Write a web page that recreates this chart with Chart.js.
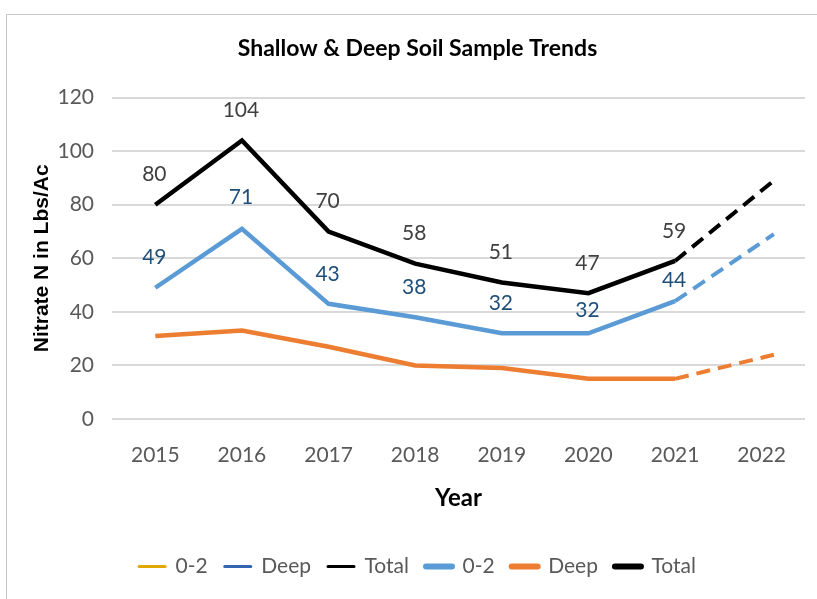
<!DOCTYPE html>
<html>
<head>
<meta charset="utf-8">
<script src="https://cdn.jsdelivr.net/npm/chart.js@4"></script>
<style>
  html, body { margin: 0; padding: 0; background: #fff; }
  #wrap { position: relative; width: 817px; height: 599px; }
  #frame { position: absolute; left: 6px; top: 14px; width: 830px; height: 620px; border: 1px solid #c8c8c8; }
  canvas { position: absolute; left: 0; top: 0; }
</style>
</head>
<body>
<div id="wrap">
  <div id="frame"></div>
  <canvas id="myChart" width="817" height="599"></canvas>
</div>
<script>
const years = [2015, 2016, 2017, 2018, 2019, 2020, 2021];
const total = [80, 104, 70, 58, 51, 47, 59];
const shallow = [49, 71, 43, 38, 32, 32, 44];
const deep = [31, 33, 27, 20, 19, 15, 15];

// dashed trend continuation past 2021
const trendX = [2021, 2022.14];
const totalTrend = [59, 89];
const shallowTrend = [44, 69];
const deepTrend = [15, 24];

const yTicks = [0, 20, 40, 60, 80, 100, 120];
const xTicks = [2015, 2016, 2017, 2018, 2019, 2020, 2021, 2022];

const narrow = "Lato, 'Liberation Sans', sans-serif";

function pts(xs, ys) {
  return xs.map((x, i) => ({ x: x, y: ys[i] }));
}

// draws the value labels above the points
const valueLabels = {
  id: "valueLabels",
  afterDatasetsDraw(chart) {
    const ctx = chart.ctx;
    chart.data.datasets.forEach((ds, i) => {
      if (!ds.labelColor) return;
      const meta = chart.getDatasetMeta(i);
      ctx.save();
      ctx.font = "21px " + narrow;
      ctx.fillStyle = ds.labelColor;
      ctx.textAlign = "center";
      ctx.textBaseline = "middle";
      meta.data.forEach((p, j) => {
        const off = ds.labelOffset ? ds.labelOffset[j] : 30;
        ctx.fillText(ds.data[j].y, p.x - 1, p.y - off);
      });
      ctx.restore();
    });
  }
};

let ctx = document.getElementById("myChart");

let chart = new Chart(ctx, {
  type: "line",
  data: {
    datasets: [
      {
        label: "0-2",
        data: pts(trendX, shallowTrend),
        borderColor: "#5B9BD5",
        legendColor: "#E0A800",
        legendWidth: 3,
        borderWidth: 4,
        borderDash: [14, 8],
        pointRadius: 0,
      },
      {
        label: "Deep",
        data: pts(trendX, deepTrend),
        borderColor: "#ED7D31",
        legendColor: "#3465B0",
        legendWidth: 3,
        borderWidth: 4,
        borderDash: [14, 8],
        pointRadius: 0,
      },
      {
        label: "Total",
        data: pts(trendX, totalTrend),
        borderColor: "#000000",
        legendColor: "#000000",
        legendWidth: 3,
        borderWidth: 4,
        borderDash: [14, 8],
        pointRadius: 0,
      },
      {
        label: "0-2",
        data: pts(years, shallow),
        borderColor: "#5B9BD5",
        legendColor: "#5B9BD5",
        legendWidth: 6,
        borderWidth: 4.5,
        pointRadius: 0,
        labelColor: "#1F4E79",
        labelOffset: [31, 32, 30, 30, 30, 23, 21],
      },
      {
        label: "Deep",
        data: pts(years, deep),
        borderColor: "#ED7D31",
        legendColor: "#ED7D31",
        legendWidth: 6,
        borderWidth: 4.5,
        pointRadius: 0,
      },
      {
        label: "Total",
        data: pts(years, total),
        borderColor: "#000000",
        legendColor: "#000000",
        legendWidth: 6,
        borderWidth: 4.5,
        pointRadius: 0,
        labelColor: "#404040",
      },
    ],
  },
  options: {
    responsive: false,
    animation: false,
    layout: { padding: { left: 30, right: 12, top: 22, bottom: 12 } },
    plugins: {
      title: {
        display: true,
        text: "Shallow & Deep Soil Sample Trends",
        color: "#000",
        font: { family: narrow, size: 23, weight: "bold" },
        padding: { top: 13, bottom: 35 },
      },
      legend: {
        position: "bottom",
        labels: {
          padding: 17,
          color: "#595959",
          font: { family: narrow, size: 21 },
          generateLabels(chart) {
            return chart.data.datasets.map((ds, i) => ({
              text: ds.label,
              fillStyle: ds.legendColor,
              strokeStyle: ds.legendColor,
              lineWidth: ds.legendWidth,
              lineCap: "round",
              pointStyle: "line",
              fontColor: "#595959",
              datasetIndex: i,
            }));
          },
          usePointStyle: true,
          pointStyleWidth: 26,
        },
      },
      tooltip: { enabled: false },
    },
    scales: {
      x: {
        type: "linear",
        min: 2014.5,
        max: 2022.5,
        afterBuildTicks(axis) {
          axis.ticks = xTicks.map((v) => ({ value: v }));
        },
        grid: { display: false },
        border: { display: false },
        ticks: {
          color: "#595959",
          font: { family: narrow, size: 21 },
          padding: 16,
          callback: (v) => String(v),
        },
        title: {
          display: true,
          text: "Year",
          color: "#000",
          font: { family: narrow, size: 24, weight: "bold" },
          padding: { top: 0, bottom: 26 },
        },
      },
      y: {
        min: 0,
        max: 120,
        afterBuildTicks(axis) {
          axis.ticks = yTicks.map((v) => ({ value: v }));
        },
        afterFit(axis) {
          axis.width = 82;
        },
        grid: { color: "#d9d9d9", lineWidth: 2, drawTicks: false },
        border: { display: false },
        ticks: {
          color: "#595959",
          font: { family: narrow, size: 21 },
          padding: 18,
        },
        title: {
          display: true,
          text: "Nitrate N in Lbs/Ac",
          color: "#000",
          font: { family: "'Liberation Sans', Arial, sans-serif", size: 21, weight: "bold" },
          padding: { top: 0, bottom: 12 },
        },
      },
    },
  },
  plugins: [valueLabels],
});
</script>
</body>
</html>
